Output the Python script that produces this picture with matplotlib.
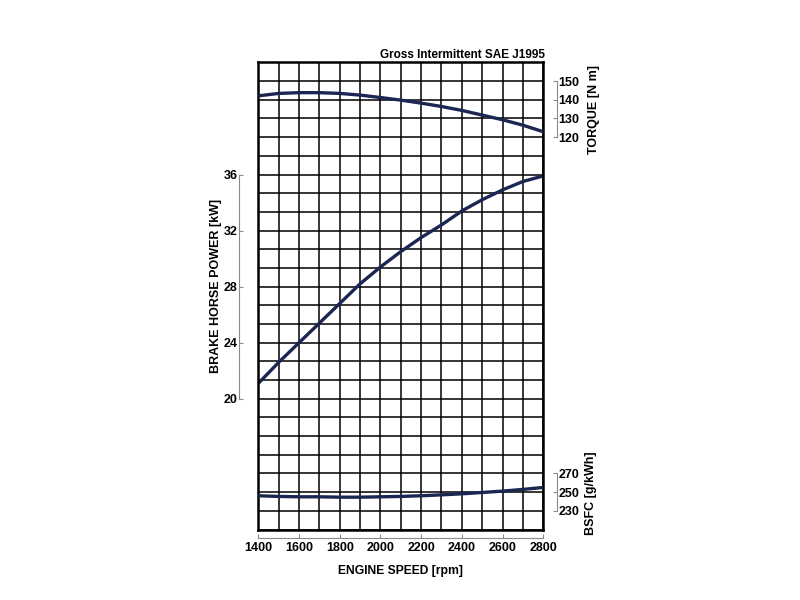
import numpy as np
import matplotlib
matplotlib.use("Agg")
import matplotlib.pyplot as plt

plt.rcParams['font.family'] = ['Liberation Sans', 'DejaVu Sans']
plt.rcParams['font.weight'] = 'bold'

# engine speed points (rpm)
rpm = [1400, 1500, 1600, 1700, 1800, 1900, 2000, 2100,
       2200, 2300, 2400, 2500, 2600, 2700, 2800]

# values
torque = [142.1, 143.4, 143.8, 143.8, 143.4, 142.5, 141.2, 139.8,
          138.2, 136.4, 134.3, 131.8, 129.3, 126.4, 122.9]
power = [21.1, 22.6, 24.0, 25.4, 26.8, 28.2, 29.4, 30.5,
         31.5, 32.4, 33.4, 34.2, 34.9, 35.5, 35.9]
bsfc = [246.1, 245.4, 245.0, 245.0, 244.6, 244.6, 245.0, 245.4,
        246.1, 247.1, 248.2, 249.6, 251.1, 252.9, 255.0]

rpm_ticks = [1400, 1600, 1800, 2000, 2200, 2400, 2600, 2800]
power_ticks = [20, 24, 28, 32, 36]
torque_ticks = [120, 130, 140, 150]
bsfc_ticks = [230, 250, 270]

line_col = '#1b2652'
spine_col = '#8a8a8a'
tsize = 9

fig = plt.figure(figsize=(8, 6), dpi=100)
ax = fig.add_axes([0.323, 0.1175, 0.356, 0.7785])

# main box + grid (25 rows x 14 columns)
ax.set_xlim(1400, 2800)
ax.set_ylim(20 - 7 * 4 / 3, 36 + 6 * 4 / 3)
ax.set_xticks(np.arange(1400, 2801, 100), minor=True)
ax.set_yticks(20 + (np.arange(26) - 7) * 4 / 3, minor=True)
ax.set_xticks([])
ax.set_yticks([])
ax.tick_params(which='both', length=0)
ax.grid(which='minor', color='black', linewidth=1.1)
for s in ax.spines.values():
    s.set_linewidth(1.8)
    s.set_color('black')
ax.plot(rpm, power, color=line_col, linewidth=2.4, solid_capstyle='butt')

# left power axis
ax_pow = ax.twinx()
ax_pow.set_ylim(ax.get_ylim())
ax_pow.yaxis.tick_left()
ax_pow.set_yticks(power_ticks)
for k in ['top', 'right', 'bottom']:
    ax_pow.spines[k].set_visible(False)
ax_pow.spines['left'].set_position(('outward', 14))
ax_pow.spines['left'].set_bounds(20, 36)
ax_pow.spines['left'].set_color(spine_col)
ax_pow.tick_params(axis='y', direction='in', length=3, color=spine_col,
                   labelsize=tsize, pad=1)
ax_pow.set_xticks([])

# torque axis
ax_tq = ax.twinx()
ax_tq.set_ylim(-90, 160)
ax_tq.set_yticks(torque_ticks)
for k in ['top', 'left', 'bottom']:
    ax_tq.spines[k].set_visible(False)
ax_tq.spines['right'].set_position(('outward', 10))
ax_tq.spines['right'].set_bounds(120, 150)
ax_tq.spines['right'].set_color(spine_col)
ax_tq.tick_params(axis='y', direction='in', length=3, color=spine_col,
                  labelsize=tsize, pad=1)
ax_tq.plot(rpm, torque, color=line_col, linewidth=2.4, solid_capstyle='butt')

# bsfc axis
ax_bs = ax.twinx()
ax_bs.set_ylim(210, 710)
ax_bs.set_yticks(bsfc_ticks)
for k in ['top', 'left', 'bottom']:
    ax_bs.spines[k].set_visible(False)
ax_bs.spines['right'].set_position(('outward', 10))
ax_bs.spines['right'].set_bounds(230, 270)
ax_bs.spines['right'].set_color(spine_col)
ax_bs.tick_params(axis='y', direction='in', length=3, color=spine_col,
                  labelsize=tsize, pad=1)
ax_bs.plot(rpm, bsfc, color=line_col, linewidth=2.4, solid_capstyle='butt')

# engine speed axis
ax_x = ax.twiny()
ax_x.set_xlim(1400, 2800)
ax_x.xaxis.set_ticks_position('bottom')
ax_x.xaxis.set_label_position('bottom')
ax_x.set_xticks(rpm_ticks)
for k in ['top', 'left', 'right']:
    ax_x.spines[k].set_visible(False)
ax_x.spines['bottom'].set_position(('outward', 6))
ax_x.spines['bottom'].set_color(spine_col)
ax_x.tick_params(axis='x', direction='in', length=3, color=spine_col,
                 labelsize=tsize, pad=3)

fig.text(216 / 800, 1 - 286 / 600, 'BRAKE HORSE POWER [kW]', rotation=90,
         ha='center', va='center', fontsize=9)
fig.text(594 / 800, 1 - 110 / 600, 'TORQUE [N m]', rotation=90,
         ha='center', va='center', fontsize=9)
fig.text(591 / 800, 1 - 493 / 600, 'BSFC [g/kWh]', rotation=90,
         ha='center', va='center', fontsize=9)
fig.text(400 / 800, 1 - 571 / 600, 'ENGINE SPEED [rpm]', ha='center',
         va='center', fontsize=8.7)
fig.text(545 / 800, 1 - 55 / 600, 'Gross Intermittent SAE J1995', ha='right',
         va='center', fontsize=8.5)

fig.savefig('out.png', dpi=100)
